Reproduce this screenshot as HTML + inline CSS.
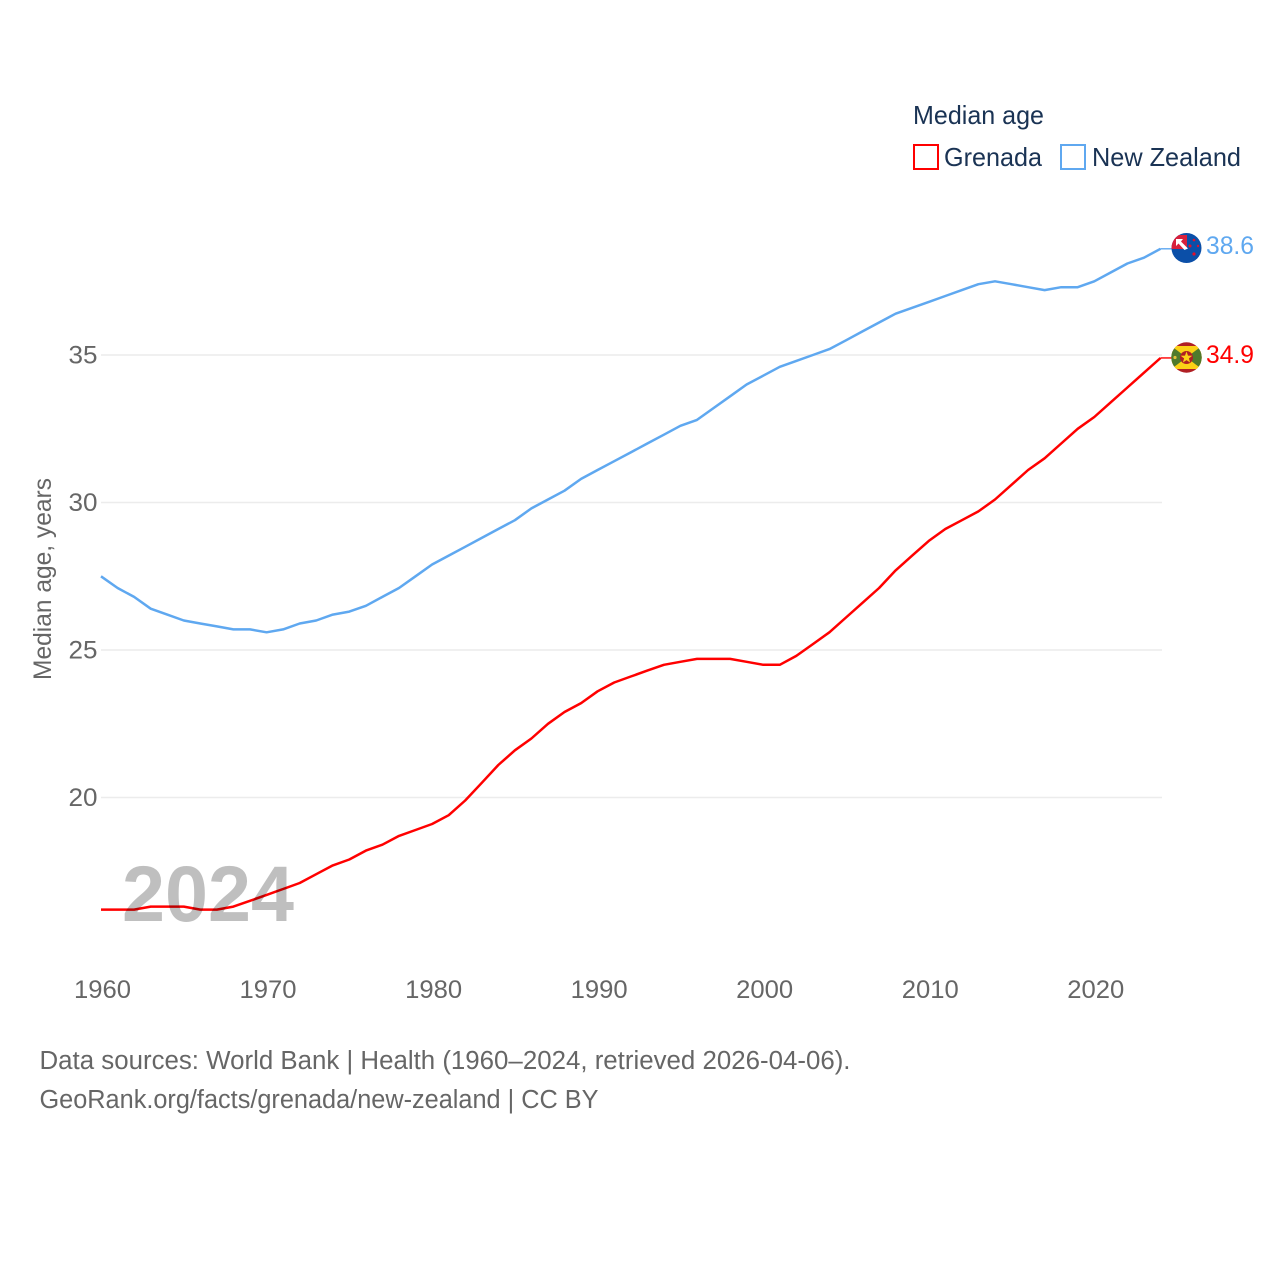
<!DOCTYPE html>
<html lang="en">
<head>
<meta charset="utf-8">
<title>Median age: Grenada and New Zealand</title>
<style>
html,body{margin:0;padding:0;background:#fff;}
svg{display:block;font-family:"Liberation Sans",sans-serif;}
</style>
</head>
<body>
<svg id="chart" xmlns="http://www.w3.org/2000/svg" width="1280" height="1280" viewBox="0 0 1280 1280">
  <defs>
    <clipPath id="flag-clip-nz"><circle cx="1186.5" cy="248" r="15"/></clipPath>
    <clipPath id="flag-clip-gd"><circle cx="1186.5" cy="357.5" r="15.2"/></clipPath>
  </defs>
  <rect x="0" y="0" width="1280" height="1280" fill="#fff"/>
  <g id="grid"></g>
  <g id="y-ticks"></g>
  <g id="x-ticks"></g>
  <text transform="translate(51,680) rotate(-90)" font-size="25" fill="#666" textLength="202" lengthAdjust="spacingAndGlyphs">Median age, years</text>
  <g id="series"></g>
  <text x="122" y="921" font-size="79" font-weight="700" fill="#000" fill-opacity="0.25" textLength="172" lengthAdjust="spacingAndGlyphs">2024</text>

  <g>
    <text x="913" y="124" font-size="26" fill="#1a3354" textLength="131" lengthAdjust="spacingAndGlyphs">Median age</text>
    <g>
      <rect x="914" y="145" width="24" height="24" fill="none" stroke="#ff0000" stroke-width="2"/>
      <text x="944" y="166" font-size="26" fill="#1a3354" textLength="98" lengthAdjust="spacingAndGlyphs">Grenada</text>
    </g>
    <g>
      <rect x="1061" y="145" width="24" height="24" fill="none" stroke="#5fa8f0" stroke-width="2"/>
      <text x="1092" y="166" font-size="26" fill="#1a3354" textLength="149" lengthAdjust="spacingAndGlyphs">New Zealand</text>
    </g>
  </g>

  <g clip-path="url(#flag-clip-nz)">
    <rect x="1170" y="231" width="34" height="34" fill="#0b4fa8"/>
    <rect x="1171" y="235" width="16" height="14" fill="#d8203c"/>
    <polygon points="1176,239 1183,239 1181,241.5 1188,248.5 1184.5,250 1178.5,243.5 1176,246" fill="#fff"/>
    <circle cx="1190" cy="246" r="1.5" fill="#e0102c"/>
    <circle cx="1194" cy="240" r="1.3" fill="#e0102c"/>
    <circle cx="1198" cy="246" r="1.2" fill="#e0102c"/>
    <circle cx="1194" cy="254" r="1.6" fill="#e0102c"/>
  </g>
  <g clip-path="url(#flag-clip-gd)">
    <rect x="1170" y="341" width="34" height="34" fill="#b01f24"/>
    <rect x="1168" y="346" width="37" height="23" fill="#fcd116"/>
    <polygon points="1168,343.5 1186.5,357.5 1168,371.5" fill="#4f7a2c"/>
    <polygon points="1205,343.5 1186.5,357.5 1205,371.5" fill="#4f7a2c"/>
    <circle cx="1186.5" cy="357.5" r="6.5" fill="#b01f24"/>
    <polygon points="1186.5,351.5 1188,355.6 1192.3,355.7 1188.9,358.4 1190.1,362.5 1186.5,360.1 1182.9,362.5 1184.1,358.4 1180.7,355.7 1185,355.6" fill="#fcd116"/>
    <circle cx="1175" cy="357.5" r="1.6" fill="#e3c33a"/>
  </g>

  <text x="1206" y="254" font-size="25" fill="#5fa8f0" textLength="48" lengthAdjust="spacingAndGlyphs">38.6</text>
  <text x="1206" y="363" font-size="25" fill="#ff0000" textLength="48" lengthAdjust="spacingAndGlyphs">34.9</text>

  <text x="39.5" y="1069" font-size="25.5" fill="#666" textLength="811" lengthAdjust="spacingAndGlyphs">Data sources: World Bank | Health (1960–2024, retrieved 2026-04-06).</text>
  <text x="39.5" y="1108" font-size="25.5" fill="#666" textLength="559" lengthAdjust="spacingAndGlyphs">GeoRank.org/facts/grenada/new-zealand | CC BY</text>
</svg>
<script>
const years = [1960,1961,1962,1963,1964,1965,1966,1967,1968,1969,1970,1971,1972,1973,1974,1975,1976,1977,1978,1979,1980,1981,1982,1983,1984,1985,1986,1987,1988,1989,1990,1991,1992,1993,1994,1995,1996,1997,1998,1999,2000,2001,2002,2003,2004,2005,2006,2007,2008,2009,2010,2011,2012,2013,2014,2015,2016,2017,2018,2019,2020,2021,2022,2023,2024];
const grenadaValues = [16.2,16.2,16.2,16.3,16.3,16.3,16.2,16.2,16.3,16.5,16.7,16.9,17.1,17.4,17.7,17.9,18.2,18.4,18.7,18.9,19.1,19.4,19.9,20.5,21.1,21.6,22.0,22.5,22.9,23.2,23.6,23.9,24.1,24.3,24.5,24.6,24.7,24.7,24.7,24.6,24.5,24.5,24.8,25.2,25.6,26.1,26.6,27.1,27.7,28.2,28.7,29.1,29.4,29.7,30.1,30.6,31.1,31.5,32.0,32.5,32.9,33.4,33.9,34.4,34.9];
const newZealandValues = [27.5,27.1,26.8,26.4,26.2,26.0,25.9,25.8,25.7,25.7,25.6,25.7,25.9,26.0,26.2,26.3,26.5,26.8,27.1,27.5,27.9,28.2,28.5,28.8,29.1,29.4,29.8,30.1,30.4,30.8,31.1,31.4,31.7,32.0,32.3,32.6,32.8,33.2,33.6,34.0,34.3,34.6,34.8,35.0,35.2,35.5,35.8,36.1,36.4,36.6,36.8,37.0,37.2,37.4,37.5,37.4,37.3,37.2,37.3,37.3,37.5,37.8,38.1,38.3,38.6];
const yTickValues = [20,25,30,35];
const xTickValues = [1960,1970,1980,1990,2000,2010,2020];

const SVG_NS = 'http://www.w3.org/2000/svg';
function xScale(year){ return 101 + (year - 1960) * 16.555; }
function yScale(value){ return 797.5 - (value - 20) * 29.5; }
function make(tag, attrs, parent){
  const el = document.createElementNS(SVG_NS, tag);
  for (const k in attrs) el.setAttribute(k, attrs[k]);
  parent.appendChild(el);
  return el;
}

const gridGroup = document.getElementById('grid');
const yTickGroup = document.getElementById('y-ticks');
const xTickGroup = document.getElementById('x-ticks');
const seriesGroup = document.getElementById('series');

yTickValues.forEach(function(v){
  const line = make('line', {x1:101, x2:1162, y1:yScale(v), y2:yScale(v), stroke:'#ececec', 'stroke-width':1.5}, gridGroup);
  
  
  const label = make('text', {x:68.5, y:yScale(v)+8.5, 'font-size':25, fill:'#666', textLength:29, lengthAdjust:'spacingAndGlyphs'}, yTickGroup);
  label.textContent = String(v);
  
  
});

xTickValues.forEach(function(v){
  const label = make('text', {x:xScale(v)+1.5, y:998, 'font-size':25, fill:'#666', 'text-anchor':'middle', textLength:57, lengthAdjust:'spacingAndGlyphs'}, xTickGroup);
  label.textContent = String(v);
  
  
});

function drawSeries(values, color, name){
  const pts = values.map(function(v, i){ return xScale(years[i]).toFixed(1) + ',' + yScale(v).toFixed(1); });
  const last = values[values.length - 1];
  const line = make('polyline', {points:pts.join(' '), fill:'none', stroke:color, 'stroke-width':2.5, 'stroke-linejoin':'round'}, seriesGroup);
  
  
  const connector = make('line', {x1:xScale(years[years.length-1]), x2:1172, y1:yScale(last), y2:yScale(last), stroke:color, 'stroke-width':1.4}, seriesGroup);
  
  
}
drawSeries(grenadaValues, '#ff0000', 'grenada');
drawSeries(newZealandValues, '#5fa8f0', 'new-zealand');
</script>
</body>
</html>
